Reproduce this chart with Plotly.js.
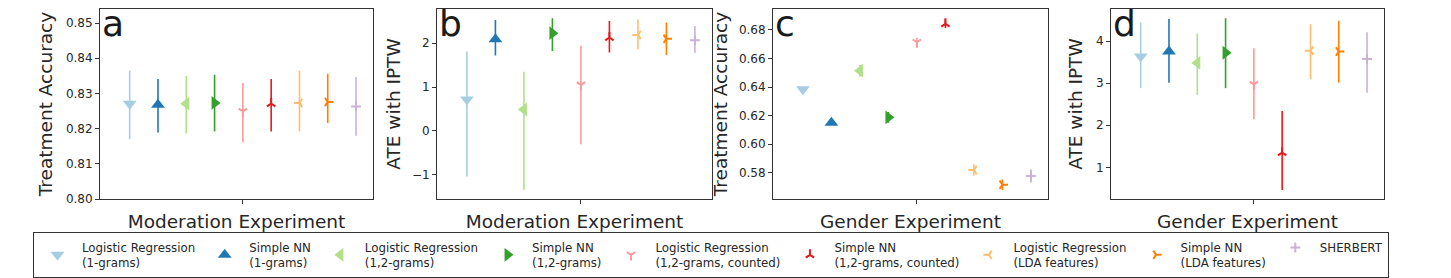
<!DOCTYPE html>
<html>
<head>
<meta charset="utf-8">
<script src="https://cdn.plot.ly/plotly-3.0.1.min.js"></script>
<style>html,body{margin:0;padding:0;background:#fff;}#chart{width:1451px;height:278px;}</style>
</head>
<body>
<div id="chart"></div>
<script>
// ---- Data ----
const modelNames = [
  "Logistic Regression<br>(1-grams)",
  "Simple NN<br>(1-grams)",
  "Logistic Regression<br>(1,2-grams)",
  "Simple NN<br>(1,2-grams)",
  "Logistic Regression<br>(1,2-grams, counted)",
  "Simple NN<br>(1,2-grams, counted)",
  "Logistic Regression<br>(LDA features)",
  "Simple NN<br>(LDA features)",
  "SHERBERT"
];
const modelColors = ["#a6cee3","#1f78b4","#b2df8a","#33a02c","#fb9a99","#e31a1c","#fdbf6f","#ff7f00","#cab2d6"];
const modelSymbols = ["triangle-down","triangle-up","triangle-left","triangle-right","y-down-open","y-up-open","y-left-open","y-right-open","cross-thin-open"];

// Panel a: Moderation experiment, treatment accuracy
const modAcc      = [0.8271, 0.8268, 0.8271, 0.8273, 0.8249, 0.8271, 0.8273, 0.8276, 0.8263];
const modAccHigh  = [0.8365, 0.8341, 0.8350, 0.8353, 0.8330, 0.8341, 0.8365, 0.8356, 0.8347];
const modAccLow   = [0.8170, 0.8189, 0.8186, 0.8192, 0.8161, 0.8192, 0.8192, 0.8216, 0.8180];

// Panel b: Moderation experiment, ATE with IPTW
const modAte      = [0.72, 2.09, 0.49, 2.23, 1.05, 2.13, 2.19, 2.10, 2.07];
const modAteHigh  = [1.81, 2.53, 1.35, 2.57, 1.94, 2.51, 2.54, 2.47, 2.39];
const modAteLow   = [-1.04, 1.72, -1.34, 1.82, -0.30, 1.79, 1.86, 1.73, 1.78];

// Panel c: Gender experiment, treatment accuracy
const genAcc      = [0.6385, 0.6151, 0.6515, 0.6188, 0.6714, 0.6843, 0.5819, 0.5716, 0.5777];
const genAccHigh  = [0.6400, 0.6165, 0.6555, 0.6226, 0.6746, 0.6873, 0.5859, 0.5753, 0.5822];
const genAccLow   = [0.6370, 0.6137, 0.6475, 0.6150, 0.6682, 0.6813, 0.5779, 0.5679, 0.5732];

// Panel d: Gender experiment, ATE with IPTW
const genAte      = [3.63, 3.75, 3.48, 3.72, 2.97, 1.35, 3.77, 3.75, 3.57];
const genAteHigh  = [4.44, 4.52, 4.18, 4.54, 3.83, 2.34, 4.40, 4.48, 4.21];
const genAteLow   = [2.88, 3.01, 2.72, 2.88, 2.14, 0.46, 3.09, 3.01, 2.77];

const panelLetters = ["a","b","c","d"];
const experimentLabels = ["Moderation Experiment","Moderation Experiment","Gender Experiment","Gender Experiment"];
const metricLabels = ["Treatment Accuracy","ATE with IPTW","Treatment Accuracy","ATE with IPTW"];

// ---- Build ----
const W = 1451, H = 278;
const px = v => v / W;
const py = v => 1 - v / H;
const FONT = "DejaVu Sans, sans-serif";
const TXT = "#262626";
const AX = "#333333";

const panels = [
  {v: modAcc, hi: modAccHigh, lo: modAccLow, x0: 100, x1: 373, yr: [0.80, 0.854], ytv: [0.80,0.81,0.82,0.83,0.84,0.85], fmt: ".2f", stand: 8},
  {v: modAte, hi: modAteHigh, lo: modAteLow, x0: 437, x1: 712, yr: [-1.55, 2.78], ytv: [-1,0,1,2], fmt: "", stand: 6},
  {v: genAcc, hi: genAccHigh, lo: genAccLow, x0: 773, x1: 1048, yr: [0.5616, 0.6947], ytv: [0.58,0.60,0.62,0.64,0.66,0.68], fmt: ".2f", stand: 6},
  {v: genAte, hi: genAteHigh, lo: genAteLow, x0: 1111, x1: 1384, yr: [0.247, 4.76], ytv: [1,2,3,4], fmt: "", stand: 8}
];

const traces = [];
const layout = {
  width: W, height: H,
  margin: {l: 0, r: 0, t: 0, b: 0, autoexpand: false},
  paper_bgcolor: "#fff", plot_bgcolor: "#fff",
  font: {family: FONT, color: TXT, size: 12},
  showlegend: true,
  legend: {
    orientation: "h",
    x: px(33), y: py(278), xanchor: "left", yanchor: "bottom",
    bgcolor: "#fff", bordercolor: AX, borderwidth: 1,
    font: {family: FONT, size: 11.8, color: TXT},
    itemwidth: 39,
    tracegroupgap: 0
  },
  annotations: [],
  hovermode: false
};

panels.forEach((p, k) => {
  const sfx = k === 0 ? "" : String(k + 1);
  const xa = "x" + sfx, ya = "y" + sfx;
  p.v.forEach((val, i) => {
    const filled = i < 4;
    traces.push({
      type: "scatter", mode: "markers",
      x: [i - 4], y: [val],
      xaxis: xa, yaxis: ya,
      name: modelNames[i],
      legendgroup: "m" + i,
      showlegend: k === 0,
      marker: {
        symbol: modelSymbols[i],
        size: filled ? 12 : 7,
        color: modelColors[i],
        line: {color: modelColors[i], width: filled ? 0 : 2}
      },
      error_y: {
        type: "data", symmetric: false,
        array: [p.hi[i] - val], arrayminus: [val - p.lo[i]],
        color: modelColors[i], thickness: 1.6, width: 0
      }
    });
  });
  layout["xaxis" + sfx] = {
    domain: [px(p.x0), px(p.x1)], anchor: ya,
    range: [-5.05, 4.6], tickvals: [0], ticktext: [""],
    ticks: "outside", ticklen: 4, tickcolor: AX, tickwidth: 1,
    showline: true, mirror: true, linecolor: AX, linewidth: 1,
    showgrid: false, zeroline: false, fixedrange: true, automargin: false,
    title: {text: experimentLabels[k], font: {family: FONT, size: 18.5, color: TXT}, standoff: 9}
  };
  layout["yaxis" + sfx] = {
    domain: [py(199), py(9)], anchor: xa,
    range: p.yr, tickvals: p.ytv, tickformat: p.fmt,
    ticks: "outside", ticklen: 4, tickcolor: AX, tickwidth: 1,
    tickfont: {family: FONT, size: 12, color: TXT},
    showline: true, mirror: true, linecolor: AX, linewidth: 1,
    showgrid: false, zeroline: false, fixedrange: true, automargin: false,
    title: {text: metricLabels[k], font: {family: FONT, size: 18.5, color: TXT}, standoff: p.stand}
  };
  layout.annotations.push({
    xref: "paper", yref: "paper",
    x: px(p.x0 + 1), y: py(9),
    xanchor: "left", yanchor: "top", yshift: 7,
    text: panelLetters[k], showarrow: false,
    font: {family: FONT, size: 36, color: "#1a1a1a"},
    borderpad: 0
  });
});

Plotly.newPlot("chart", traces, layout, {displayModeBar: false, staticPlot: true});
</script>
</body>
</html>
